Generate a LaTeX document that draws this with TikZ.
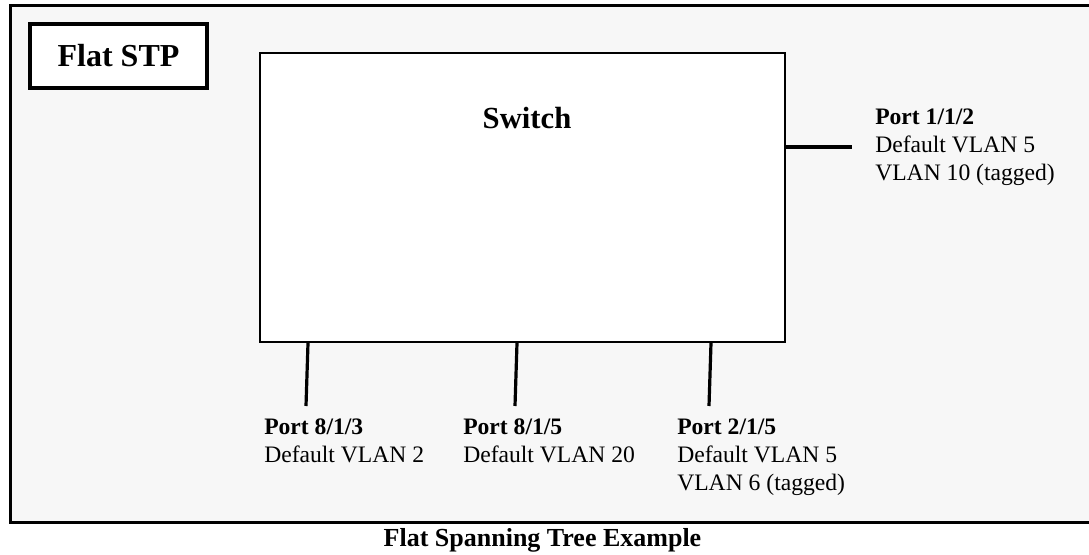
\documentclass[tikz,border=0pt]{standalone}
\usepackage{fontspec}
\setmainfont{Liberation Serif}
\definecolor{panelgrey}{HTML}{F7F7F7}

\begin{document}
\begin{tikzpicture}[
   x=0.75pt,y=0.75pt,
   portlabel/.style={anchor=north west,inner sep=0pt,align=left,
      font=\fontsize{17.7}{21}\selectfont},
   portline/.style={line width=2.4pt},
   box/.style={draw,fill=white}]
\useasboundingbox (0,0) rectangle (1089,554);
\fill[panelgrey] (10,32) rectangle (1089,548);
\draw[line width=2.25pt] (1092,548) -- (10,548) -- (10,32) -- (1092,32);

\node[box,line width=3pt,minimum width=132.75pt,minimum height=48pt,
      font=\fontsize{24}{28}\bfseries\selectfont] (flatstp) at (118.5,498) {Flat STP};
\node[box,line width=1.5pt,minimum width=393.75pt,minimum height=216.75pt] (switch) at (522.5,356.5) {};
\node[font=\fontsize{23}{27}\bfseries\selectfont] (title) at (527,436) {Switch};

\coordinate (e112) at (852,407);
\coordinate (e813) at (306,148);
\coordinate (e815) at (515,148);
\coordinate (e215) at (709,148);

\draw[portline] (switch.east |- e112) -- (e112);
\draw[portline] (308,0 |- switch.south) -- (e813);
\draw[portline] (517,0 |- switch.south) -- (e815);
\draw[portline] (711,0 |- switch.south) -- (e215);

\node[portlabel] (p112) at (875,445) {\textbf{Port 1/1/2}\\Default VLAN 5\\VLAN 10 (tagged)};
\node[portlabel] (p813) at (264,135) {\textbf{Port 8/1/3}\\Default VLAN 2};
\node[portlabel] (p815) at (463,135) {\textbf{Port 8/1/5}\\Default VLAN 20};
\node[portlabel] (p215) at (677,135) {\textbf{Port 2/1/5}\\Default VLAN 5\\VLAN 6 (tagged)};

\node[font=\fontsize{19.5}{23}\bfseries\selectfont] (caption) at (542.5,14) {Flat Spanning Tree Example};
\end{tikzpicture}
\end{document}
